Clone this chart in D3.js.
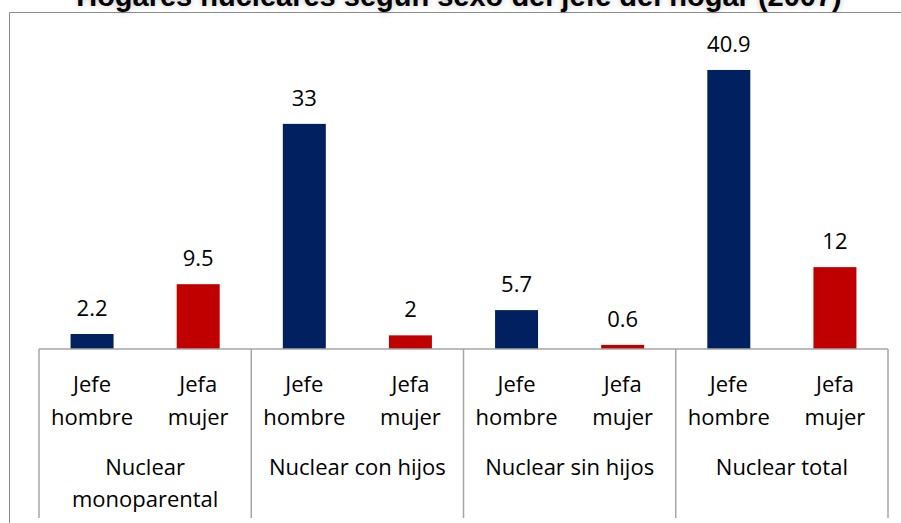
<!DOCTYPE html>
<html>
<head>
<meta charset="utf-8">
<script src="https://cdn.jsdelivr.net/npm/d3@7"></script>
<style>
  body { margin: 0; background: #fff; }
  svg text { font-family: "Open Sans", sans-serif; }
  .title { font-family: "Liberation Sans", Arial, sans-serif !important; font-weight: bold; text-shadow: 0 0 6px rgba(0,0,0,0.25); }
</style>
</head>
<body>
<div class="chart"></div>
<script>
// data
var groups = [["Nuclear", "monoparental"], ["Nuclear con hijos"], ["Nuclear sin hijos"], ["Nuclear total"]];
var subs = [["Jefe", "hombre"], ["Jefa", "mujer"]];
var hombre = [2.2, 33, 5.7, 40.9];
var mujer = [9.5, 2, 0.6, 12];
var colors = ["#002060", "#C00000"];

var width = 901, height = 523;
var svg = d3.select(".chart").append("svg")
    .attr("width", width)
    .attr("height", height);

// outer frame (only left + top are inside the photo)
svg.append("path")
    .attr("d", "M9.5,523V12.5H901")
    .attr("fill", "none")
    .attr("stroke", "#8c8c8c")
    .attr("stroke-width", 1);

svg.append("text")
    .attr("class", "title")
    .attr("x", 459)
    .attr("y", 6)
    .attr("text-anchor", "middle")
    .style("font-size", "29px")
    .text("Hogares nucleares según sexo del jefe del hogar (2007)");

var left = 39, right = 888, base = 349;

var x0 = d3.scaleBand()
    .domain(d3.range(groups.length))
    .range([left, right]);

var x1 = d3.scaleBand()
    .domain([0, 1])
    .range([0, x0.bandwidth()])
    .paddingInner(0.595)
    .paddingOuter(0.2975);

var y = d3.scaleLinear()
    .domain([0, 45])
    .range([base, 42]);

var rows = [];
groups.forEach(function(g, i) {
    rows.push({g: i, s: 0, v: hombre[i]});
    rows.push({g: i, s: 1, v: mujer[i]});
});

svg.append("g").selectAll("rect")
    .data(rows)
    .enter().append("rect")
        .attr("x", d => x0(d.g) + x1(d.s))
        .attr("y", d => y(d.v))
        .attr("width", x1.bandwidth())
        .attr("height", d => base - y(d.v))
        .attr("fill", d => colors[d.s]);

svg.append("g").selectAll("text")
    .data(rows)
    .enter().append("text")
        .attr("x", d => x0(d.g) + x1(d.s) + x1.bandwidth() / 2)
        .attr("y", d => y(d.v) - 18)
        .attr("text-anchor", "middle")
        .style("font-size", "22px")
        .attr("fill", "#000")
        .text(d => d.v);

// category axis
var axis = svg.append("g").attr("stroke", "#a6a6a6").attr("stroke-width", 1.5);
axis.append("line")
    .attr("x1", left).attr("x2", right)
    .attr("y1", base).attr("y2", base);
axis.selectAll(".sep")
    .data(d3.range(groups.length + 1))
    .enter().append("line")
        .attr("class", "sep")
        .attr("x1", d => left + d * x0.bandwidth())
        .attr("x2", d => left + d * x0.bandwidth())
        .attr("y1", base).attr("y2", 518);

// sub labels
svg.append("g").selectAll("text")
    .data(rows)
    .enter().append("text")
        .attr("text-anchor", "middle")
        .style("font-size", "22px")
        .attr("transform", d => "translate(" + (x0(d.g) + x1(d.s) + x1.bandwidth() / 2) + ",392)")
        .selectAll("tspan")
        .data(d => subs[d.s])
        .enter().append("tspan")
            .attr("x", 0)
            .attr("y", (d, i) => i * 33)
            .text(d => d);

// group labels
svg.append("g").selectAll("text")
    .data(groups)
    .enter().append("text")
        .attr("text-anchor", "middle")
        .style("font-size", "22px")
        .attr("transform", (d, i) => "translate(" + (x0(i) + x0.bandwidth() / 2) + ",475)")
        .selectAll("tspan")
        .data(d => d)
        .enter().append("tspan")
            .attr("x", 0)
            .attr("y", (d, i) => i * 32)
            .text(d => d);
</script>
</body>
</html>
